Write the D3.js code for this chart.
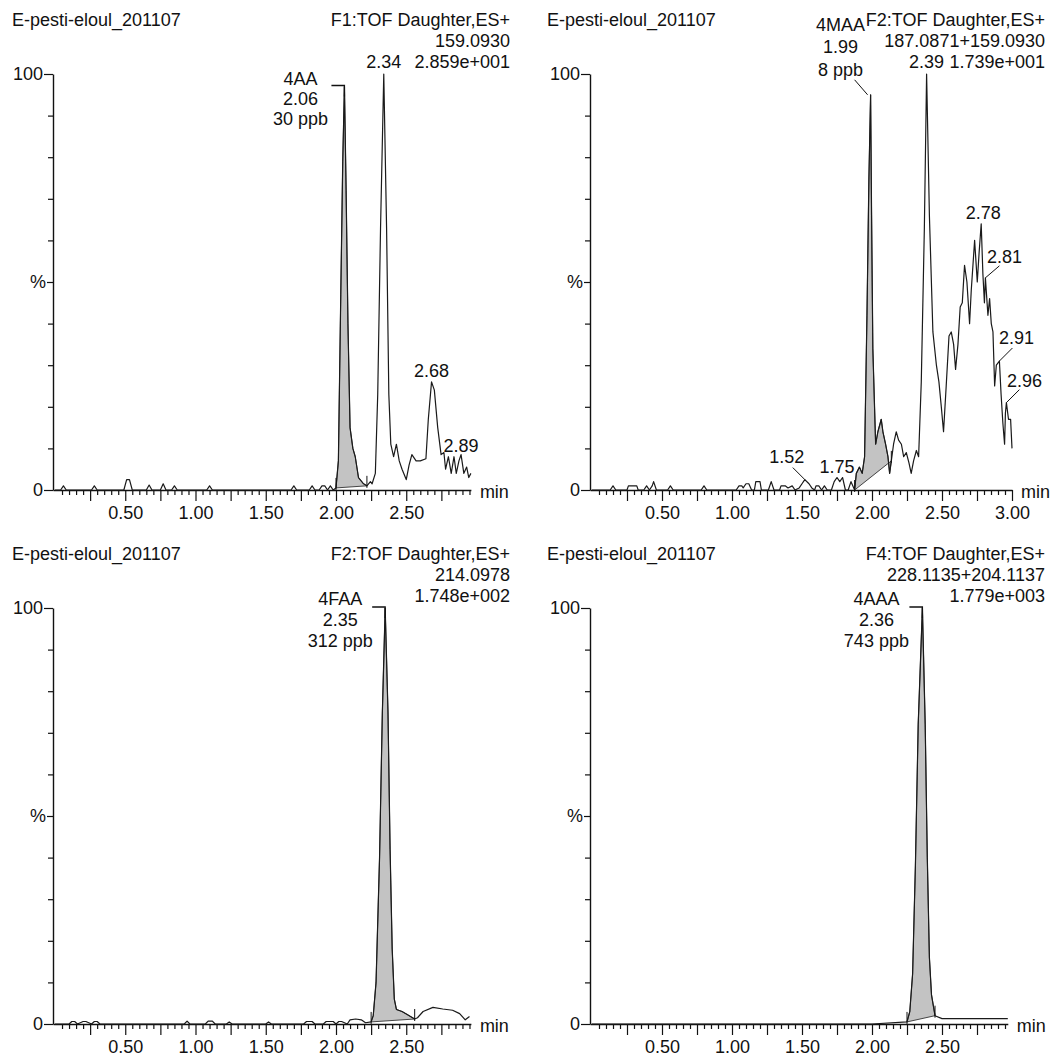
<!DOCTYPE html>
<html><head>
<meta charset="utf-8">
<title>E-pesti-eloul_201107</title>
<script src="https://cdn.jsdelivr.net/npm/d3@7"></script>
<style>
  body { margin: 0; background: #fff; }
  svg text { font-family: "Liberation Sans", Arial, sans-serif; font-size: 18px; fill: #111; }
</style>
</head>
<body>
<svg id="chart" width="1061" height="1057"></svg>

<script>
// ---------------- data ----------------
var fileName = "E-pesti-eloul_201107";
var channelNames   = ["F1:TOF Daughter,ES+", "F2:TOF Daughter,ES+", "F2:TOF Daughter,ES+", "F4:TOF Daughter,ES+"];
var massLabels     = ["159.0930", "187.0871+159.0930", "214.0978", "228.1135+204.1137"];
var intensityLabels = ["2.859e+001", "1.739e+001", "1.748e+002", "1.779e+003"];

var compoundNames   = ["4AA", "4MAA", "4FAA", "4AAA"];
var compoundTimes   = [2.06, 1.99, 2.35, 2.36];
var compoundAmounts = ["30 ppb", "8 ppb", "312 ppb", "743 ppb"];

var xTickLabels = [0.5, 1.0, 1.5, 2.0, 2.5, 3.0];

// top left : 159.0930  (time in min, intensity in %)
var timeA = [0, 0.04, 0.06, 0.08, 0.26, 0.28, 0.30, 0.49, 0.51, 0.53,
             0.55, 0.65, 0.67, 0.69, 0.75, 0.77, 0.79, 0.83, 0.85, 0.87,
             1.08, 1.10, 1.12, 1.68, 1.70, 1.72, 1.81, 1.83, 1.85, 1.88,
             1.90, 1.92, 1.94, 1.96, 1.98, 2.00, 2.017, 2.034, 2.048, 2.06,
             2.072, 2.085, 2.10, 2.12, 2.137, 2.16, 2.196, 2.22, 2.245, 2.257,
             2.28, 2.297, 2.317, 2.34, 2.36, 2.376, 2.39, 2.41, 2.43, 2.45,
             2.47, 2.50, 2.52, 2.54, 2.57, 2.60, 2.64, 2.657, 2.68, 2.70,
             2.724, 2.748, 2.768, 2.78, 2.80, 2.82, 2.84, 2.856, 2.875, 2.89,
             2.91, 2.93, 2.945, 2.96];
var intA  = [0, 0, 1, 0, 0, 1, 0, 0, 2.5, 2.5,
             0, 0, 1.2, 0, 0, 1.5, 0, 0, 1, 0,
             0, 1, 0, 0, 1, 0, 0, 1, 0, 0,
             1, 1, 0, 1, 0, 0.5, 7, 47, 79, 97,
             72, 40, 15, 10, 8, 3, 1.5, 1, 2, 1.5,
             4, 23, 63, 100, 63, 23, 11, 8, 11, 7,
             5, 2.5, 6, 8.5, 7, 7, 7.5, 17, 26, 24,
             15, 8.5, 9, 5, 8, 4, 8, 4, 7, 8.5,
             4, 5.5, 3, 4];
var peakA = [2.00, 2.22];
var labelTimeA = [2.34, 2.68, 2.89];

// top right : 187.0871+159.0930
var timeB = [0, 0.13, 0.15, 0.17, 0.25, 0.26, 0.32, 0.33, 0.37, 0.39,
             0.41, 0.43, 0.44, 0.46, 0.48, 0.54, 0.56, 0.58, 0.78, 0.80,
             0.82, 1.03, 1.05, 1.07, 1.08, 1.10, 1.12, 1.14, 1.16, 1.17,
             1.20, 1.21, 1.26, 1.28, 1.30, 1.34, 1.35, 1.38, 1.40, 1.43,
             1.45, 1.48, 1.50, 1.52, 1.55, 1.57, 1.59, 1.60, 1.62, 1.64,
             1.66, 1.68, 1.71, 1.73, 1.75, 1.77, 1.79, 1.81, 1.83, 1.85,
             1.876, 1.888, 1.91, 1.93, 1.947, 1.964, 1.978, 1.99, 1.997, 2.006,
             2.026, 2.042, 2.066, 2.078, 2.097, 2.114, 2.126, 2.138, 2.154, 2.173,
             2.19, 2.21, 2.226, 2.245, 2.264, 2.28, 2.297, 2.317, 2.333, 2.352,
             2.374, 2.39, 2.41, 2.435, 2.46, 2.478, 2.495, 2.511, 2.53, 2.55,
             2.566, 2.583, 2.597, 2.614, 2.63, 2.645, 2.661, 2.678, 2.697, 2.709,
             2.733, 2.752, 2.765, 2.78, 2.792, 2.803, 2.81, 2.828, 2.84, 2.852,
             2.864, 2.876, 2.888, 2.91, 2.922, 2.935, 2.947, 2.953, 2.96, 2.975,
             2.99, 3.0];
var intB  = [0, 0, 1, 0, 0, 1, 1, 0, 0, 1,
             0, 1, 2, 0, 0, 0, 1, 0, 0, 1,
             0, 0, 1, 1, 0.5, 1.5, 1.5, 0, 0, 2,
             2, 0, 0, 2, 0, 0, 1, 1, 0.5, 1,
             0, 0.5, 1.5, 2.5, 1.5, 0.5, 0, 1, 1, 0,
             1, 0, 0, 2, 3, 2, 3, 0, 0, 2,
             0, 4, 5.5, 4, 8, 42, 75, 95, 66, 34,
             11, 14, 17, 14, 11, 8, 4, 7, 11, 14,
             12, 11, 8, 9, 6.5, 4, 7, 9.5, 8, 26,
             63, 100, 66, 38, 30, 26, 20, 14, 25, 37,
             38, 35, 29, 35, 44, 45, 54, 50, 40, 48,
             60, 50, 57, 64, 52, 45, 51, 42, 46, 40,
             38, 25, 30, 31, 23, 16, 11, 18.5, 21, 17,
             17, 10];
var peakB = [1.876, 2.138];
var labelTimeB = [1.52, 1.75, 2.39, 2.78, 2.81, 2.91, 2.96];

// bottom left : 214.0978
var timeC = [0, 0.10, 0.12, 0.14, 0.16, 0.20, 0.22, 0.26, 0.28, 0.30,
             0.32, 0.92, 0.94, 0.96, 1.07, 1.09, 1.12, 1.14, 1.22, 1.24,
             1.26, 1.50, 1.52, 1.54, 1.77, 1.79, 1.83, 1.85, 1.91, 1.93,
             1.98, 2.00, 2.02, 2.04, 2.08, 2.10, 2.14, 2.18, 2.21, 2.25,
             2.265, 2.285, 2.31, 2.33, 2.35, 2.37, 2.385, 2.40, 2.415, 2.43,
             2.47, 2.51, 2.56, 2.58, 2.62, 2.69, 2.76, 2.83, 2.88, 2.92,
             2.95];
var intC  = [0, 0, 0.6, 0.6, 0, 0.6, 0.6, 0, 0.6, 0.6,
             0, 0, 0.7, 0, 0, 0.7, 0.7, 0, 0, 0.5,
             0, 0, 0.5, 0, 0, 0.6, 0.6, 0, 0, 0.6,
             0.6, 0, 0.6, 0.6, 0, 1, 1.2, 1, 0.3, 0.5,
             2, 10, 40, 75, 100, 75, 42, 18, 6, 3.5,
             3, 2.2, 1.2, 1.5, 3, 4, 3.6, 3.3, 2.5, 1,
             1.8];
var peakC = [2.25, 2.56];
var labelTimeC = [];

// bottom right : 228.1135+204.1137
var timeD = [0, 0.5, 1.0, 1.5, 2.0, 2.25, 2.27, 2.29, 2.31, 2.33,
             2.36, 2.38, 2.395, 2.41, 2.425, 2.45, 2.50, 2.97];
var intD  = [0, 0, 0, 0, 0, 0.5, 3, 12, 38, 72,
             100, 72, 40, 16, 7, 2, 1.3, 1.3];
var peakD = [2.25, 2.45];
var labelTimeD = [];

// ---------------- layout ----------------
var panels = [
  { time: timeA, inten: intA, peak: peakA, labels: labelTimeA,
    left: 53, top: 74, base: 490, x0: 55, pxPerMin: 140.5, xMax: 2.96, head: 26, titleX: 12, headRight: 510,
    labelPos: [{dx: 0, dy: -6}, {dx: 0, dy: -5}, {dx: 0, dy: -3}],
    block: {dx: -44, dy: -1, lh: 20, kind: "bracket"} },
  { time: timeB, inten: intB, peak: peakB, labels: labelTimeB,
    left: 590, top: 74, base: 490, x0: 592, pxPerMin: 140, xMax: 3.0, head: 26, titleX: 547, headRight: 1045,
    labelPos: [{dx: -18, dy: -17, cx: -12, cy: -12}, {dx: 0, dy: -5}, {dx: 0, dy: -6}, {dx: 2, dy: -5},
               {dx: 19, dy: -15, cx: 14, cy: -12}, {dx: 17, dy: -17, cx: 13, cy: -13}, {dx: 18, dy: -16, cx: 13, cy: -13}],
    block: {dx: -30, dy: -64, lh: 22.5, kind: "diag"} },
  { time: timeC, inten: intC, peak: peakC, labels: labelTimeC,
    left: 53, top: 608, base: 1024, x0: 55, pxPerMin: 140.5, xMax: 2.96, head: 560, titleX: 12, headRight: 510,
    labelPos: [], block: {dx: -45, dy: -3, lh: 21, kind: "bracket"} },
  { time: timeD, inten: intD, peak: peakD, labels: labelTimeD,
    left: 590, top: 608, base: 1024, x0: 592, pxPerMin: 140, xMax: 2.97, head: 560, titleX: 547, headRight: 1045,
    labelPos: [], block: {dx: -46, dy: -3, lh: 21, kind: "bracket"} }
];

var svg = d3.select("#chart");
var fmt = d3.format(".2f");

panels.forEach(function(p, k) {
  var g = svg.append("g").style("color", "#111");

  var xStart = -(p.x0 - p.left) / p.pxPerMin;
  var x = d3.scaleLinear()
      .domain([xStart, p.xMax])
      .range([p.left, p.x0 + p.xMax * p.pxPerMin]);
  var y = d3.scaleLinear().domain([0, 100]).range([p.base, p.top]);
  var xEnd = x.range()[1];

  // header texts
  g.append("text").attr("x", p.titleX).attr("y", p.head).text(fileName);
  [channelNames[k], massLabels[k], intensityLabels[k]].forEach(function(s, i) {
    g.append("text").attr("x", p.headRight).attr("y", p.head + i * 21)
      .attr("text-anchor", "end").text(s);
  });

  // x axis: minor ticks every 0.05, long ticks every 0.25, labels every 0.50
  var nTicks = Math.floor(p.xMax / 0.05 + 1e-6);
  var minor = d3.range(1, nTicks + 1).filter(function(i) { return i % 5 != 0; }).map(function(i) { return i * 0.05; });
  var major = d3.range(1, Math.floor(p.xMax / 0.25 + 1e-6) + 1).map(function(i) { return i * 0.25; });

  g.append("g")
    .attr("transform", "translate(0," + p.base + ")")
    .call(d3.axisBottom(x).tickValues(minor).tickSize(5).tickSizeOuter(0).tickFormat(""))
    .call(function(a) { a.select(".domain").attr("stroke-width", 1.4); a.selectAll(".tick line").attr("stroke-width", 1.2); });

  g.append("g")
    .attr("transform", "translate(0," + p.base + ")")
    .call(d3.axisBottom(x).tickValues(major).tickSize(11).tickPadding(5)
      .tickFormat(function(d) {
        var lab = xTickLabels.find(function(v) { return Math.abs(v - d) < 1e-6; });
        return lab === undefined ? "" : fmt(lab);
      }))
    .call(function(a) { a.select(".domain").remove(); a.selectAll(".tick line").attr("stroke-width", 1.2); });

  g.append("text").attr("x", xEnd + 9).attr("y", p.base + 8).text("min");

  // y axis
  g.append("g")
    .attr("transform", "translate(" + p.left + ",0)")
    .call(d3.axisLeft(y).tickValues([10, 20, 30, 40, 60, 70, 80, 90]).tickSize(5).tickSizeOuter(0).tickFormat(""))
    .call(function(a) { a.select(".domain").attr("stroke-width", 1.4); a.selectAll(".tick line").attr("stroke-width", 1.2); });

  g.append("g")
    .attr("transform", "translate(" + p.left + ",0)")
    .call(d3.axisLeft(y).tickValues([0, 100]).tickSize(9).tickPadding(1).tickFormat(d3.format("d")))
    .call(function(a) { a.select(".domain").remove(); a.selectAll(".tick line").attr("stroke-width", 1.2); });

  g.append("g")
    .attr("transform", "translate(" + p.left + ",0)")
    .call(d3.axisLeft(y).tickValues([50]).tickSize(6).tickPadding(1).tickFormat(function() { return "%"; }))
    .call(function(a) { a.select(".domain").remove(); a.selectAll(".tick line").attr("stroke-width", 1.2); });

  // integrated peak area
  var pts = p.time.map(function(t, i) { return [t, p.inten[i]]; });
  var i0 = p.time.indexOf(p.peak[0]), i1 = p.time.indexOf(p.peak[1]);
  var line = d3.line().x(function(d) { return x(d[0]); }).y(function(d) { return y(d[1]); });

  g.append("path")
    .attr("d", line(pts.slice(i0, i1 + 1)) + "Z")
    .attr("fill", "#c3c3c3")
    .attr("stroke", "#333")
    .attr("stroke-width", 0.9);

  g.append("path")
    .datum(pts)
    .attr("d", line)
    .attr("fill", "none")
    .attr("stroke", "#1a1a1a")
    .attr("stroke-width", 1.2)
    .attr("stroke-linejoin", "round");

  // integration markers
  [i0, i1].forEach(function(i) {
    g.append("line")
      .attr("x1", x(pts[i][0])).attr("x2", x(pts[i][0]))
      .attr("y1", y(pts[i][1]) - 10).attr("y2", y(pts[i][1]) + 2)
      .attr("stroke", "#111").attr("stroke-width", 1);
  });

  // retention time labels
  p.labels.forEach(function(lt, j) {
    var i = d3.minIndex(p.time, function(t) { return Math.abs(t - lt); });
    var px = x(p.time[i]), py = y(p.inten[i]);
    var lp = p.labelPos[j];
    g.append("text").attr("x", px + lp.dx).attr("y", py + lp.dy)
      .attr("text-anchor", "middle").text(fmt(lt));
    if (lp.cx !== undefined) {
      g.append("line").attr("x1", px + lp.cx).attr("y1", py + lp.cy).attr("x2", px).attr("y2", py)
        .attr("stroke", "#111").attr("stroke-width", 1);
    }
  });

  // compound block (name, time, amount)
  var ci = d3.minIndex(p.time, function(t) { return Math.abs(t - compoundTimes[k]); });
  var cx = x(p.time[ci]), cy = y(p.inten[ci]);
  var b = p.block;
  [compoundNames[k], fmt(compoundTimes[k]), compoundAmounts[k]].forEach(function(s, i) {
    g.append("text").attr("x", cx + b.dx).attr("y", cy + b.dy + i * b.lh)
      .attr("text-anchor", "middle").text(s);
  });
  if (b.kind == "bracket") {
    g.append("path")
      .attr("d", "M" + (cx - 13) + "," + (cy - 1) + "H" + cx + "V" + (cy + 10))
      .attr("fill", "none").attr("stroke", "#111").attr("stroke-width", 1.3);
  } else {
    g.append("line").attr("x1", cx - 16).attr("y1", cy - 15).attr("x2", cx - 3).attr("y2", cy)
      .attr("stroke", "#111").attr("stroke-width", 1);
  }
});
</script>
</body></html>
